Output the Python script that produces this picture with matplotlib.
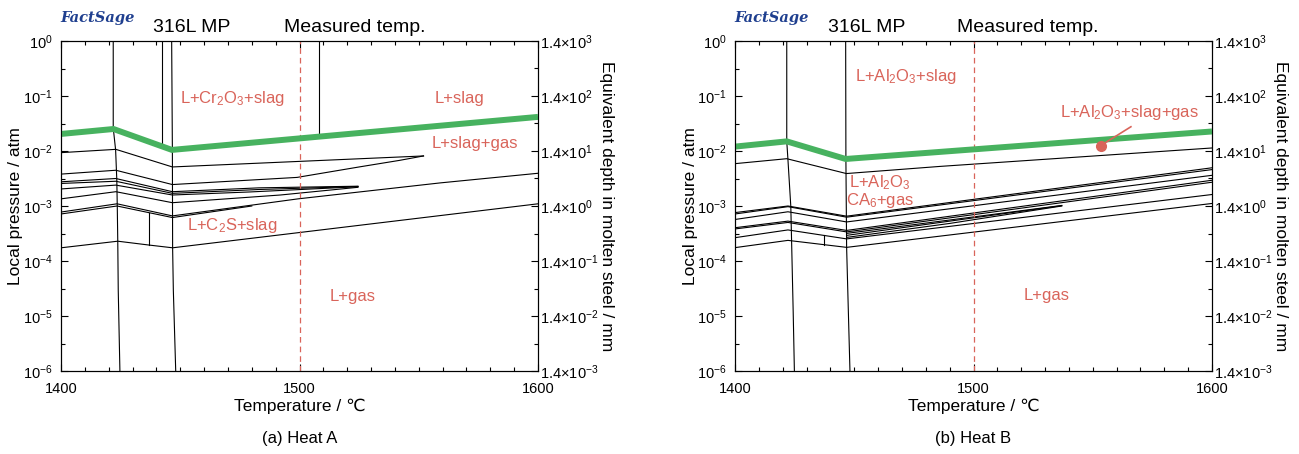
"""
FactSage phase maps for 316L, Heat A / Heat B:
local pressure vs temperature, with equivalent depth in molten steel.
"""
import numpy as np
import matplotlib
matplotlib.use('Agg')
import matplotlib.pyplot as plt
from matplotlib.ticker import FixedLocator, NullFormatter

plt.rcParams.update({
    'font.family': ['Liberation Sans', 'DejaVu Sans'],
    'mathtext.fontset': 'custom',
    'mathtext.rm': 'Liberation Sans',
    'mathtext.it': 'Liberation Sans:italic',
    'mathtext.bf': 'Liberation Sans:bold',
    'mathtext.default': 'regular',
    'axes.unicode_minus': False,
})

# ── Heat A : T (degC), log10 P (atm) ────────────────────────────
A_opt_t  = [1400, 1422, 1446.5, 1600]            # green boundary
A_opt_lp = [-1.69, -1.60, -1.98, -1.38]

A_c1_t  = [1400, 1423, 1446.7, 1552]
A_c1_lp = [-2.03, -1.97, -2.29, -2.09]
A_c2_t  = [1400, 1423, 1446.7, 1499, 1525, 1542, 1552]
A_c2_lp = [-2.42, -2.35, -2.61, -2.48, -2.29, -2.17, -2.09]
A_c3_t  = [1400, 1423, 1446.7, 1483, 1524.5]
A_c3_lp = [-2.56, -2.50, -2.74, -2.67, -2.64]
A_c4_t  = [1400, 1423, 1446.7, 1483, 1524.5]
A_c4_lp = [-2.59, -2.55, -2.77, -2.70, -2.645]
A_c5_t  = [1400, 1423, 1446.7, 1479, 1524.5]
A_c5_lp = [-2.69, -2.62, -2.80, -2.745, -2.65]
A_c6_t  = [1400, 1423, 1446.7, 1492, 1524.5]
A_c6_lp = [-2.87, -2.74, -2.94, -2.80, -2.66]
A_c7_t  = [1400, 1423.5, 1446.7, 1499.4, 1559, 1600]
A_c7_lp = [-3.11, -2.96, -3.18, -2.87, -2.58, -2.405]
A_c8_t  = [1400, 1423.5, 1446.7, 1480]
A_c8_lp = [-3.145, -3.0, -3.21, -3.0]
A_c9_t  = [1400, 1423.8, 1436.9, 1446.8, 1600]
A_c9_lp = [-3.76, -3.64, -3.71, -3.76, -2.96]

A_v1_t  = [1421.9, 1421.9, 1422.9, 1423.4, 1423.6, 1423.8, 1424.0, 1424.7]
A_v1_lp = [0, -1.58, -1.98, -2.53, -3.02, -3.64, -4.53, -6]
A_v2_t  = [1442.2, 1442.2]
A_v2_lp = [0, -1.9]
A_v3_t  = [1446.4, 1446.7, 1446.8, 1447.1, 1448.1]
A_v3_lp = [0, -1.98, -3.76, -4.53, -6]
A_v4_t  = [1508.2, 1508.2]
A_v4_lp = [0, -1.74]
A_v5_t  = [1436.9, 1436.9]
A_v5_lp = [-3.12, -3.71]

# ── Heat B ──────────────────────────────────────────────────────
B_opt_t  = [1400, 1421.7, 1446.4, 1600]
B_opt_lp = [-1.92, -1.825, -2.145, -1.645]

B_c1_t  = [1400, 1421.7, 1446.7, 1486, 1600]
B_c1_lp = [-2.23, -2.14, -2.41, -2.28, -1.945]
B_c2_t  = [1400, 1422.2, 1446.8, 1600]
B_c2_lp = [-3.12, -3.00, -3.185, -2.305]
B_c3_t  = [1400, 1422.2, 1446.8, 1600]
B_c3_lp = [-3.145, -3.012, -3.203, -2.338]
B_c4_t  = [1400, 1422.2, 1446.8, 1600]
B_c4_lp = [-3.245, -3.105, -3.29, -2.442]
B_c5_t  = [1400, 1422.2, 1446.8, 1600]
B_c5_lp = [-3.395, -3.275, -3.444, -2.532]
B_c6_t  = [1400, 1422.2, 1446.8, 1600]
B_c6_lp = [-3.417, -3.299, -3.471, -2.568]
B_c7_t  = [1400, 1422.2, 1446.8, 1600]
B_c7_lp = [-3.576, -3.435, -3.598, -2.791]
B_c8_t  = [1400, 1422.2, 1446.8, 1600]
B_c8_lp = [-3.757, -3.625, -3.752, -2.954]
B_n1_t  = [1446.8, 1537]
B_n1_lp = [-3.498, -2.99]
B_n2_t  = [1446.8, 1537]
B_n2_lp = [-3.534, -2.994]
B_n3_t  = [1446.8, 1490, 1537]
B_n3_lp = [-3.571, -3.317, -3.0]

B_v1_t  = [1421.7, 1421.7, 1422.2, 1423.4, 1424.4, 1424.9]
B_v1_lp = [0, -1.825, -2.157, -3.009, -4.93, -6]
B_v2_t  = [1446.4, 1446.5, 1446.8, 1448.2]
B_v2_lp = [0, -2.157, -3.75, -6]
B_v5_t  = [1437.3, 1437.3]
B_v5_lp = [-3.535, -3.703]

B_dot_t, B_dot_lp = 1553.3, -1.903          # pointer for L+Al2O3+slag+gas
B_tip_t, B_tip_lp = 1566.0, -1.559

T_MEAS = 1500
DEPTH_PER_ATM = 1.4e3                       # mm of molten steel per atm

RED   = '#d9645a'
GREEN = '#47b25f'


def _setup_axes(ax, ylab_x):
    ax.set_xlim(1400, 1600)
    ax.set_yscale('log')
    ax.set_ylim(1e-6, 1)
    ax.xaxis.set_major_locator(FixedLocator([1400, 1500, 1600]))
    ax.xaxis.set_minor_locator(FixedLocator(np.arange(1400, 1601, 10)))
    dec = np.arange(-6, 1)
    ax.yaxis.set_major_locator(FixedLocator(10.0 ** dec))
    ax.yaxis.set_minor_locator(FixedLocator(10.0 ** (dec[:-1] + 0.5)))
    ax.yaxis.set_minor_formatter(NullFormatter())
    ax.set_yticklabels([r'$10^{%d}$' % d for d in dec])
    ax.tick_params(which='both', direction='in', top=True, right=False,
                   labelsize=10.5, width=0.8)
    ax.tick_params(which='major', length=5)
    ax.tick_params(which='minor', length=3)
    ax.tick_params(axis='x', pad=8)
    ax.tick_params(axis='y', pad=6)
    for s in ax.spines.values():
        s.set_linewidth(0.8)

    ax2 = ax.twinx()
    ax2.set_yscale('log')
    ax2.set_ylim(1e-6 * DEPTH_PER_ATM, DEPTH_PER_ATM)
    ax2.yaxis.set_major_locator(FixedLocator(DEPTH_PER_ATM * 10.0 ** dec))
    ax2.yaxis.set_minor_locator(FixedLocator(DEPTH_PER_ATM * 10.0 ** (dec[:-1] + 0.5)))
    ax2.yaxis.set_minor_formatter(NullFormatter())
    ax2.set_yticklabels([r'$1.4×10^{%d}$' % (d + 3) for d in dec])
    ax2.tick_params(which='both', direction='in', labelsize=10.5, width=0.8, pad=1.5)
    ax2.tick_params(which='major', length=5)
    ax2.tick_params(which='minor', length=3)
    ax2.set_ylabel('Equivalent depth in molten steel / mm', fontsize=12.5,
                   rotation=-90, va='center', ha='center')
    ax2.yaxis.set_label_coords(1.143, 0.5)

    ax.set_xlabel('Temperature / ℃', fontsize=12.5)
    ax.xaxis.set_label_coords(0.5, -0.085)
    ax.set_ylabel('Local pressure / atm', fontsize=12.5)
    ax.yaxis.set_label_coords(ylab_x, 0.5)
    return ax2


def _curve(ax, t, lp, **kw):
    style = dict(color='black', lw=0.8, solid_joinstyle='miter')
    style.update(kw)
    ax.plot(t, 10.0 ** np.asarray(lp), **style)


def _label(ax, t, lp, s):
    ax.text(t, 10.0 ** lp, s, color=RED, fontsize=12, ha='center', va='center')


fig = plt.figure(figsize=(12.99, 4.54), dpi=100, facecolor='white')
axA = fig.add_axes([61 / 1299, 1 - 371 / 454, 477 / 1299, 330 / 454])
axB = fig.add_axes([735 / 1299, 1 - 371 / 454, 477 / 1299, 330 / 454])

# ── Heat A ──────────────────────────────────────────────────────
_setup_axes(axA, -0.08)
for t, lp in [(A_c1_t, A_c1_lp), (A_c2_t, A_c2_lp), (A_c3_t, A_c3_lp),
              (A_c4_t, A_c4_lp), (A_c5_t, A_c5_lp), (A_c6_t, A_c6_lp),
              (A_c7_t, A_c7_lp), (A_c8_t, A_c8_lp), (A_c9_t, A_c9_lp),
              (A_v1_t, A_v1_lp), (A_v2_t, A_v2_lp), (A_v3_t, A_v3_lp),
              (A_v4_t, A_v4_lp), (A_v5_t, A_v5_lp)]:
    _curve(axA, t, lp)
axA.axvline(T_MEAS, color=RED, lw=0.9, ls=(0, (4.5, 3.2)))
_curve(axA, A_opt_t, A_opt_lp, color=GREEN, lw=4.3, solid_capstyle='butt', zorder=3)

_label(axA, 1471.9, -1.04, r'L+Cr$_2$O$_3$+slag')
_label(axA, 1566.9, -1.04, 'L+slag')
_label(axA, 1573.6, -1.87, 'L+slag+gas')
_label(axA, 1471.7, -3.35, r'L+C$_2$S+slag')
_label(axA, 1522.4, -4.64, 'L+gas')

# ── Heat B ──────────────────────────────────────────────────────
_setup_axes(axB, -0.078)
for t, lp in [(B_c1_t, B_c1_lp), (B_c2_t, B_c2_lp), (B_c3_t, B_c3_lp),
              (B_c4_t, B_c4_lp), (B_c5_t, B_c5_lp), (B_c6_t, B_c6_lp),
              (B_c7_t, B_c7_lp), (B_c8_t, B_c8_lp), (B_n1_t, B_n1_lp),
              (B_n2_t, B_n2_lp), (B_n3_t, B_n3_lp),
              (B_v1_t, B_v1_lp), (B_v2_t, B_v2_lp), (B_v5_t, B_v5_lp)]:
    _curve(axB, t, lp)
axB.axvline(T_MEAS, color=RED, lw=0.9, ls=(0, (4.5, 3.2)))
_curve(axB, B_opt_t, B_opt_lp, color=GREEN, lw=4.3, solid_capstyle='butt', zorder=3)

_label(axB, 1471.7, -0.65, r'L+Al$_2$O$_3$+slag')
_label(axB, 1460.8, -2.57, r'L+Al$_2$O$_3$')
_label(axB, 1460.8, -2.90, r'CA$_6$+gas')
_label(axB, 1565.2, -1.30, r'L+Al$_2$O$_3$+slag+gas')
_label(axB, 1530.8, -4.62, 'L+gas')
axB.plot([B_dot_t, B_tip_t], [10 ** B_dot_lp, 10 ** B_tip_lp], color=RED, lw=1.2, zorder=4)
axB.plot([B_dot_t], [10 ** B_dot_lp], 'o', color=RED, ms=7, zorder=4)

# ── header texts and captions ───────────────────────────────────
for x0, cx1, cx2, cap in [(60, 192, 355, '(a) Heat A'), (734, 867, 1028, '(b) Heat B')]:
    fig.text(x0 / 1299, 1 - 18 / 454, 'FactSage', fontsize=10.5, color='#1f3f8f',
             family='DejaVu Serif', weight='bold', style='italic', ha='left', va='center')
    fig.text(cx1 / 1299, 1 - 28 / 454, '316L MP', fontsize=14, ha='center', va='center')
    fig.text(cx2 / 1299, 1 - 28 / 454, 'Measured temp.', fontsize=14, ha='center', va='center')
    fig.text((cx2 - 55) / 1299, 1 - 438 / 454, cap, fontsize=12, ha='center', va='center')

fig.savefig('out.png', dpi=100, facecolor='white')
